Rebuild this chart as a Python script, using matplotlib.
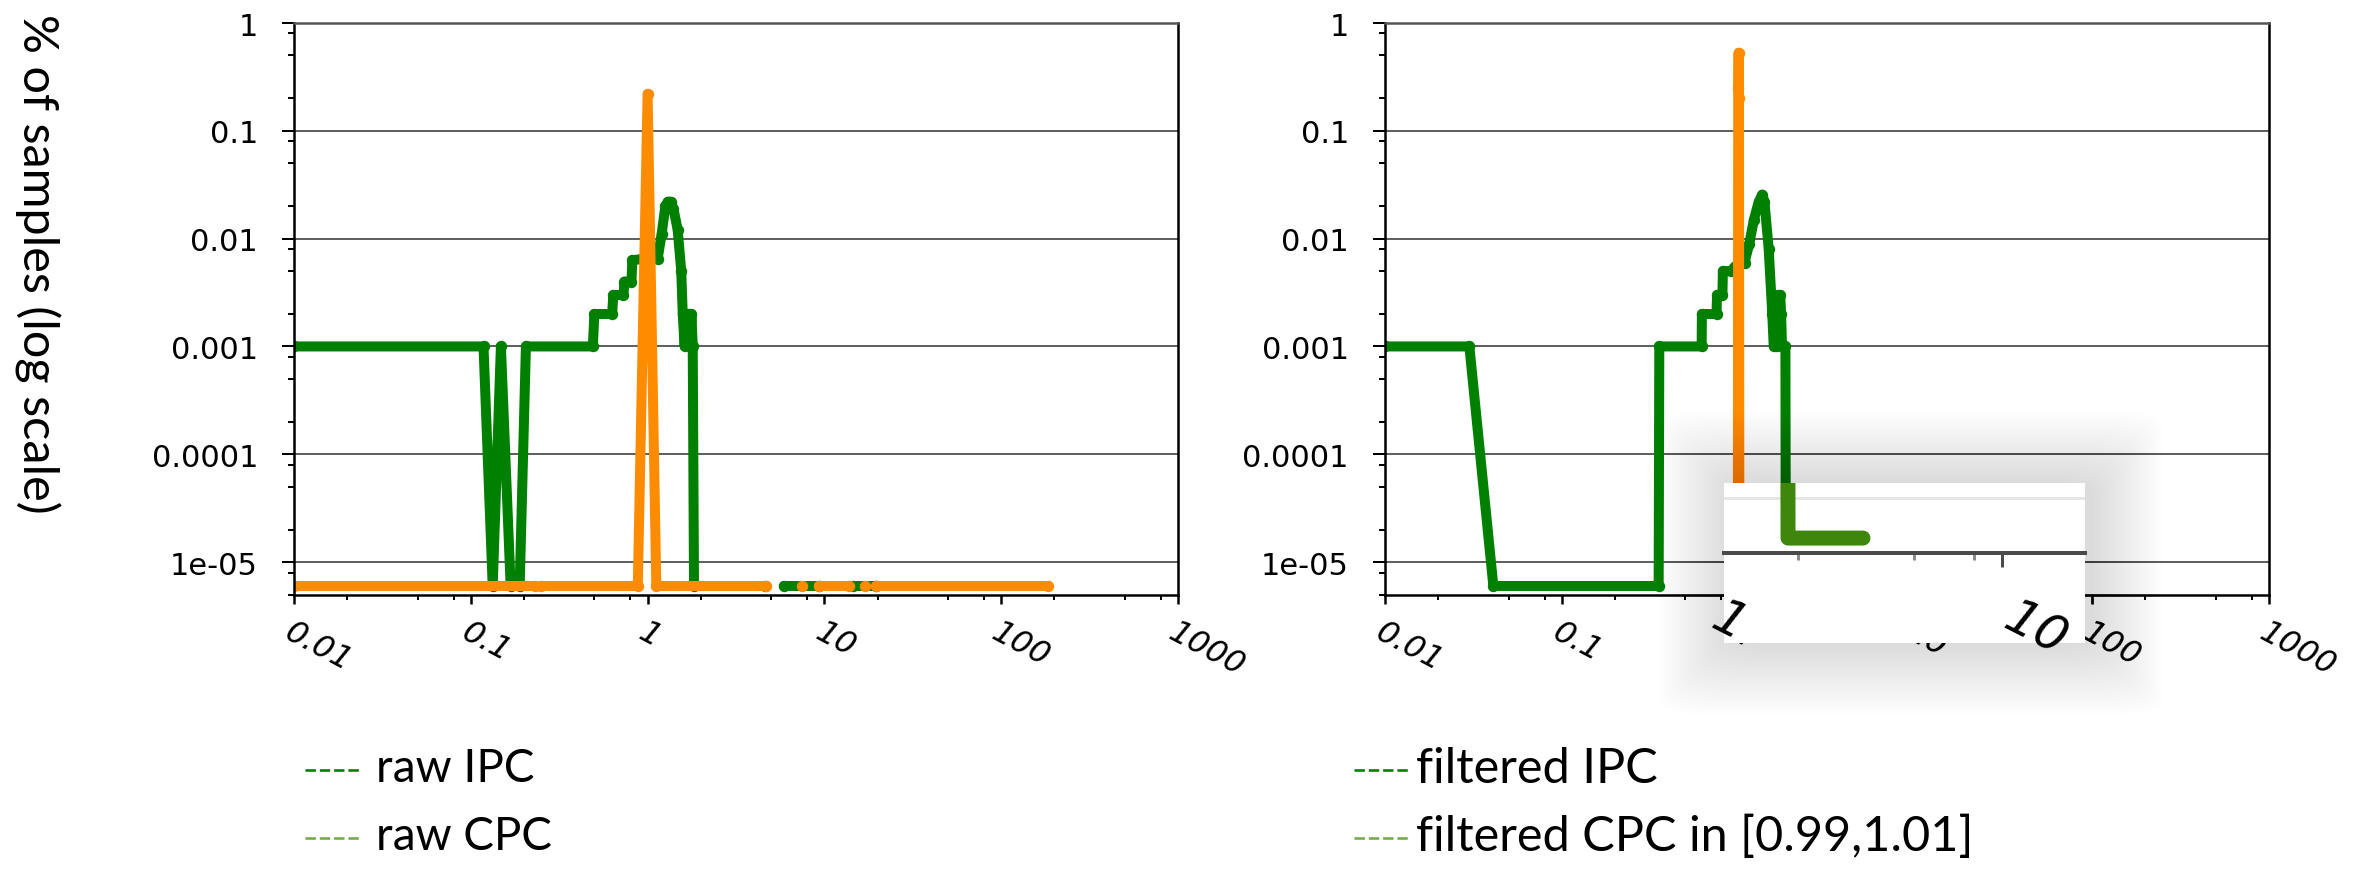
import numpy as np
import matplotlib
matplotlib.use("Agg")
import matplotlib.pyplot as plt
import matplotlib.transforms as mtransforms
from matplotlib.lines import Line2D
from matplotlib.patches import Rectangle, FancyBboxPatch
from matplotlib.ticker import FixedLocator, LogLocator, NullFormatter

W, H, DPI = 2371, 878, 100

# ---------- data ----------
ZERO_LEVEL = 6e-6  # empty bins are drawn on this floor line

raw_ipc_x = [0.01, 0.118, 0.133, 0.148, 0.168, 0.189, 0.205, 0.49, 0.50, 0.63, 0.64,
             0.73, 0.74, 0.81, 0.82, 0.95, 1.05, 1.14, 1.20, 1.26, 1.30, 1.35, 1.40,
             1.48, 1.55, 1.58, 1.62, 1.64, 1.72, 1.74, 1.77, 1.80, 1.83, 4.6,
             np.nan, 5.9, 9.3, np.nan, 14.6, 19.6]
raw_ipc_y = [1e-3, 1e-3, 0, 1e-3, 0, 0, 1e-3, 1e-3, 2e-3, 2e-3, 3e-3,
             3e-3, 4e-3, 4e-3, 6.3e-3, 6.5e-3, 7e-3, 6.5e-3, 0.011, 0.02, 0.022, 0.022, 0.019,
             0.012, 0.005, 0.002, 0.001, 0.002, 0.002, 0.001, 0.002, 0.001, 0, 0,
             np.nan, 0, 0, np.nan, 0, 0]

raw_cpc_x = [0.01, 0.23, np.nan, 0.25, 0.88, 1.0, 1.12, 4.7, np.nan, 7.5, np.nan,
             9.3, 13.8, np.nan, 16.9, np.nan, 19.6, 184]
raw_cpc_y = [0, 0, np.nan, 0, 0, 0.22, 0, 0, np.nan, 0, np.nan,
             0, 0, np.nan, 0, np.nan, 0, 0]

filt_ipc_x = [0.01, 0.030, 0.041, 0.353, 0.356, 0.618, 0.62, 0.75, 0.755, 0.81, 0.815,
              0.91, 0.95, 1.08, 1.15, 1.22, 1.30, 1.36, 1.40, 1.48, 1.55, 1.58, 1.65,
              1.68, 1.72, 1.74, 1.76, 1.84, 1.85, 3.34]
filt_ipc_y = [1e-3, 1e-3, 0, 0, 1e-3, 1e-3, 2e-3, 2e-3, 3e-3, 3e-3, 5e-3,
              5e-3, 5.5e-3, 6e-3, 9e-3, 0.015, 0.022, 0.0256, 0.022, 0.008, 0.002, 0.001, 0.001,
              0.003, 0.003, 0.002, 0.001, 0.001, 0, 0]

filt_cpc_x = [0.99, 0.995, 1.0, 1.005, 1.01]
filt_cpc_y = [0, 0.25, 0.53, 0.2, 0]

x_ticks = [0.01, 0.1, 1, 10, 100, 1000]
x_tick_labels = ["0.01", "0.1", "1", "10", "100", "1000"]
y_ticks = [1e-5, 1e-4, 1e-3, 1e-2, 1e-1, 1]
y_tick_labels = ["1e-05", "0.0001", "0.001", "0.01", "0.1", "1"]

legend_left = ["raw IPC", "raw CPC"]
legend_right = ["filtered IPC", "filtered CPC in [0.99,1.01]"]
y_label = "% of samples (log scale)"

GREEN = "#008000"
LIGHT_GREEN = "#70ad47"
ORANGE = "#ff8c00"
TEXT_FONT = ["Lato", "DejaVu Sans"]


def pt(px):
    # pixels -> points at this dpi
    return px * 72.0 / DPI


def fig_rect(x0, y0, x1, y1):
    # pixel box (top-left origin) -> figure fraction rect
    return [x0 / W, 1 - y1 / H, (x1 - x0) / W, (y1 - y0) / H]


def lift(vals):
    v = np.asarray(vals, dtype=float)
    return np.where(v == 0, ZERO_LEVEL, v)


def style_axes(ax):
    ax.set_xscale("log")
    ax.set_yscale("log")
    ax.set_xlim(0.01, 1000)
    ax.set_ylim(4.95e-6, 1)
    ax.xaxis.set_major_locator(FixedLocator(x_ticks))
    ax.set_xticklabels(x_tick_labels)
    ax.yaxis.set_major_locator(FixedLocator(y_ticks))
    ax.set_yticklabels(y_tick_labels)
    ax.xaxis.set_minor_locator(LogLocator(base=10, subs=(2, 5, 8)))
    ax.yaxis.set_minor_locator(LogLocator(base=10, subs=(2, 5, 8)))
    ax.xaxis.set_minor_formatter(NullFormatter())
    ax.yaxis.set_minor_formatter(NullFormatter())
    ax.grid(True, which="major", axis="y", color="#3a3a3a", lw=pt(1.6))
    for s in ax.spines.values():
        s.set_color("black")
        s.set_linewidth(pt(2.5))
    ax.spines["top"].set_color("#555555")
    ax.tick_params(axis="y", which="major", direction="out", length=pt(12), width=pt(2),
                   pad=pt(24), labelsize=22)
    ax.tick_params(axis="y", which="minor", direction="out", length=pt(6), width=pt(2))
    ax.tick_params(axis="x", which="major", direction="out", length=pt(9), width=pt(2.5),
                   pad=pt(12), labelsize=23)
    ax.tick_params(axis="x", which="minor", direction="out", length=pt(5), width=pt(2))
    for lbl in ax.get_xticklabels():
        lbl.set_rotation(-28)
        lbl.set_ha("left")
        lbl.set_va("top")
        lbl.set_rotation_mode("anchor")
        lbl.set_fontstyle("italic")


def draw_series(ax, x, y, color, lw=10):
    ax.plot(x, lift(y), color=color, lw=pt(lw), marker="o", ms=pt(lw),
            solid_joinstyle="round", solid_capstyle="round", clip_on=True)


fig = plt.figure(figsize=(W / DPI, H / DPI), dpi=DPI)

ax1 = fig.add_axes(fig_rect(294, 24, 1178, 596))
ax2 = fig.add_axes(fig_rect(1385, 24, 2269, 596))

draw_series(ax1, raw_ipc_x, raw_ipc_y, GREEN)
draw_series(ax1, raw_cpc_x, raw_cpc_y, ORANGE)
draw_series(ax2, filt_ipc_x, filt_ipc_y, GREEN)
draw_series(ax2, filt_cpc_x, filt_cpc_y, ORANGE)
for ax in (ax1, ax2):
    style_axes(ax)

# y label
fig.text(37 / W, 1 - 264 / H, y_label, rotation=-90, ha="center", va="center",
         fontsize=35, family=TEXT_FONT)

# hand-made legends: short coloured dashes + text
rows_y = [771, 839]
legend_sets = (
    (legend_left, 305, 376, 33),
    (legend_right, 1354, 1416, 35),
)
for names, dash_x, text_x, fsize in legend_sets:
    for name, yy, col in zip(names, rows_y, (GREEN, LIGHT_GREEN)):
        fig.add_artist(Line2D([dash_x / W, (dash_x + 56) / W], [1 - yy / H, 1 - yy / H],
                              transform=fig.transFigure, color=col, lw=pt(2.6),
                              dashes=(4.0, 1.5)))
        fig.text(text_x / W, 1 - (yy - 2) / H, name, color="black", fontsize=fsize,
                 ha="left", va="center", family=TEXT_FONT)

# ---------- magnified inset pasted on the right panel ----------
bx0, by0, bx1, by1 = 1724, 484, 2085, 644
n_layers = 36
for i in range(n_layers, 0, -1):
    grow = i * 2.0
    shadow = FancyBboxPatch(((bx0 - grow + 6) / W, 1 - (by1 + grow) / H),
                            (bx1 - bx0 + 2 * grow) / W, (by1 - by0 + 2 * grow) / H,
                            boxstyle="round,pad=0,rounding_size=0.02",
                            transform=fig.transFigure, facecolor="black",
                            edgecolor="none", alpha=0.0045, zorder=2)
    fig.patches.append(shadow)
box = Rectangle((bx0 / W, 1 - by1 / H), (bx1 - bx0) / W, (by1 - by0) / H,
                transform=fig.transFigure, facecolor="white", edgecolor="none", zorder=3)
fig.patches.append(box)

ins = fig.add_axes(fig_rect(bx0, by0, bx1, 554), zorder=4)
ins.patch.set_alpha(0)
ins.set_xscale("log")
ins.set_yscale("log")
ins.set_xlim(1.117, 19.2)
ins.set_ylim(4.95e-6, 1.22e-5)
ins.axhline(1e-5, color="#e6e6e6", lw=pt(3), zorder=1)
ins.plot(filt_ipc_x, lift(filt_ipc_y), color="#3f870a", lw=pt(15),
         solid_capstyle="round", solid_joinstyle="round", zorder=2)
for side in ("top", "left", "right"):
    ins.spines[side].set_visible(False)
ins.spines["bottom"].set_color("#4a4a4a")
ins.spines["bottom"].set_linewidth(pt(4))
ins.xaxis.set_major_locator(FixedLocator([10]))
ins.xaxis.set_minor_locator(FixedLocator([2, 5, 8]))
ins.xaxis.set_major_formatter(NullFormatter())
ins.xaxis.set_minor_formatter(NullFormatter())
ins.yaxis.set_visible(False)
ins.tick_params(axis="x", which="major", direction="out", length=pt(14), width=pt(3),
                color="#4a4a4a")
ins.tick_params(axis="x", which="minor", direction="out", length=pt(7), width=pt(3),
                color="#8a8a8a")
lab_tr = mtransforms.blended_transform_factory(ins.transData, ins.transAxes)
for val, lbl in ((1, "1"), (10, "10")):
    tr = mtransforms.offset_copy(lab_tr, fig=fig, x=16, y=0, units="dots")
    ins.text(val, -0.56, lbl, transform=tr, rotation=-27, rotation_mode="anchor",
             ha="left", va="top", fontsize=36, fontstyle="italic", clip_on=False)

fig.savefig("out.png", dpi=DPI)
